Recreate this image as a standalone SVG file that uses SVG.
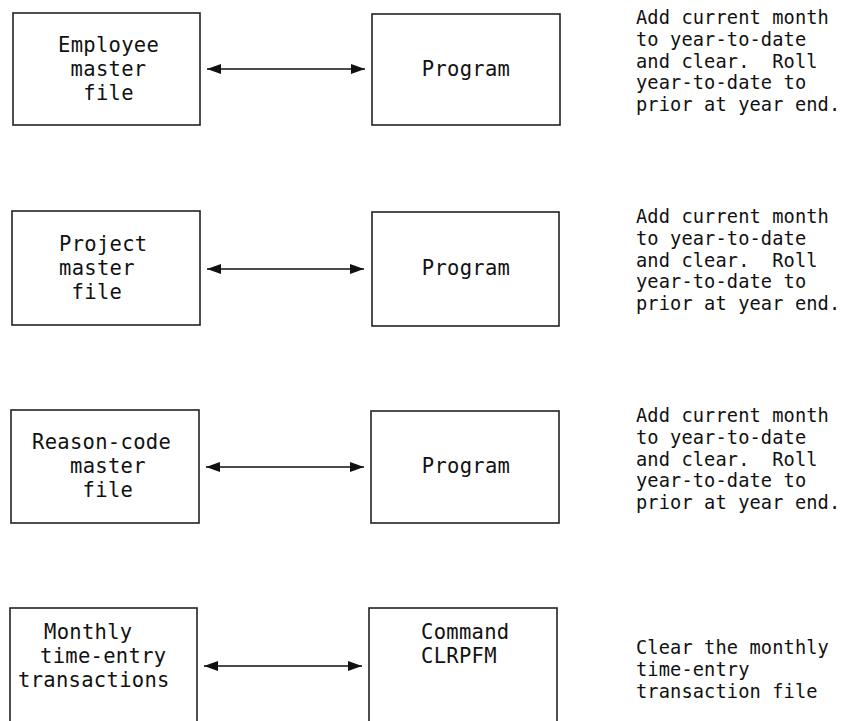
<svg xmlns="http://www.w3.org/2000/svg" width="841" height="721" viewBox="0 0 841 721">
<defs>
<marker id="ah" viewBox="0 0 14 10" refX="14" refY="5" markerWidth="14" markerHeight="10" markerUnits="userSpaceOnUse" orient="auto-start-reverse">
<path d="M0,0 L14,5 L0,10 Z" fill="#111"/>
</marker>
<style>
.box{fill:#fff;stroke:#222;stroke-width:1.6}
text{font-family:"DejaVu Sans Mono","Liberation Mono",monospace;fill:#111}
.b{font-size:20.5px;letter-spacing:0.3px}
.n{font-size:18.7px;letter-spacing:0.1px}
.c{text-anchor:middle}
line{stroke:#111;stroke-width:1.6;marker-start:url(#ah);marker-end:url(#ah)}
</style>
</defs>
<rect width="841" height="721" fill="#fff"/>
<g id="employee-file"><rect class="box" x="13" y="13" width="187" height="112"/>
<text class="b"><tspan x="58" y="52">Employee</tspan><tspan x="70.6" y="76">master</tspan><tspan x="83.3" y="100">file</tspan></text></g>
<g id="program-1"><rect class="box" x="372" y="14" width="188" height="111"/><text class="b c" x="466" y="76">Program</text></g>
<g id="note-1"><text class="n"><tspan x="636" y="24">Add current month</tspan><tspan x="636" y="45.8">to year-to-date</tspan><tspan x="636" y="67.6" xml:space="preserve">and clear.  Roll</tspan><tspan x="636" y="89.4">year-to-date to</tspan><tspan x="636" y="111.2">prior at year end.</tspan></text></g>

<g id="project-file"><rect class="box" x="12" y="211" width="188" height="114"/>
<text class="b"><tspan x="59" y="251">Project</tspan><tspan x="59" y="275">master</tspan><tspan x="71.6" y="299">file</tspan></text></g>
<g id="program-2"><rect class="box" x="372" y="212" width="187" height="114"/><text class="b c" x="466" y="275">Program</text></g>
<g id="note-2"><text class="n"><tspan x="636" y="223">Add current month</tspan><tspan x="636" y="244.8">to year-to-date</tspan><tspan x="636" y="266.6" xml:space="preserve">and clear.  Roll</tspan><tspan x="636" y="288.4">year-to-date to</tspan><tspan x="636" y="310.2">prior at year end.</tspan></text></g>

<g id="reason-code-file"><rect class="box" x="11" y="410" width="188" height="113"/>
<text class="b"><tspan x="32" y="449">Reason-code</tspan><tspan x="70" y="473">master</tspan><tspan x="82.6" y="497">file</tspan></text></g>
<g id="program-3"><rect class="box" x="371" y="411" width="188" height="112"/><text class="b c" x="466" y="473">Program</text></g>
<g id="note-3"><text class="n"><tspan x="636" y="422">Add current month</tspan><tspan x="636" y="443.8">to year-to-date</tspan><tspan x="636" y="465.6" xml:space="preserve">and clear.  Roll</tspan><tspan x="636" y="487.4">year-to-date to</tspan><tspan x="636" y="509.2">prior at year end.</tspan></text></g>

<g id="monthly-transactions"><rect class="box" x="10" y="608" width="187" height="130"/>
<text class="b"><tspan x="44" y="639">Monthly</tspan><tspan x="40" y="663">time-entry</tspan><tspan x="18" y="687">transactions</tspan></text></g>
<g id="command-clrpfm"><rect class="box" x="369" y="608" width="188" height="130"/>
<text class="b"><tspan x="421" y="639">Command</tspan><tspan x="421" y="663">CLRPFM</tspan></text></g>
<g id="note-4"><text class="n"><tspan x="636" y="654">Clear the monthly</tspan><tspan x="636" y="675.8">time-entry</tspan><tspan x="636" y="697.6">transaction file</tspan></text></g>

<g id="connectors">
<line x1="207" y1="69" x2="365" y2="69"/>
<line x1="207" y1="269" x2="364" y2="269"/>
<line x1="206" y1="467" x2="364" y2="467"/>
<line x1="204" y1="666" x2="362" y2="666"/>
</g>
</svg>
